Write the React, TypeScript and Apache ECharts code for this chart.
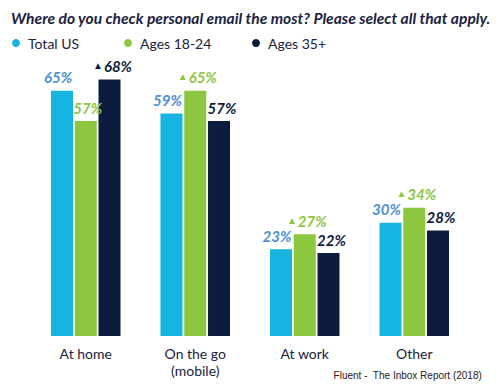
import React, { useEffect, useRef } from "react";
import * as echarts from "echarts";

const categories = ["At home", "On the go\n(mobile)", "At work", "Other"];
const seriesNames = ["Total US", "Ages 18-24", "Ages 35+"];
const totalUS = [65, 59, 23, 30];
const ages18to24 = [57, 65, 27, 34];
const ages35plus = [68, 57, 22, 28];
// significance markers (▲) shown before the value
const totalUSUp = [false, false, false, false];
const ages18to24Up = [false, true, true, true];
const ages35plusUp = [true, false, false, false];

const FONT = "Lato";
const barColors = ["#16b4e0", "#8dc63f", "#0d1c3e"];
const labelColors = ["#4a8fd4", "#8dc63f", "#0d1c3e"];

export default function App() {
  const ref = useRef<HTMLDivElement>(null);
  useEffect(() => {
    if (!ref.current) return;
    const chart = echarts.init(ref.current, null, { renderer: "svg" });
    const values = [totalUS, ages18to24, ages35plus];
    const ups = [totalUSUp, ages18to24Up, ages35plusUp];
    const offsets = [[-4, 0], [2, 0], [3, 0]];
    const series = seriesNames.map((name, i) => ({
      name,
      type: "bar",
      data: values[i],
      barWidth: 22,
      barGap: "8%",
      itemStyle: { color: barColors[i] },
      label: {
        show: true,
        position: "top",
        distance: 6,
        offset: offsets[i],
        formatter: (p: any) =>
          (ups[i][p.dataIndex] ? "{t|▲}" : "") + "{v|" + p.value + "%}",
        rich: {
          t: { fontSize: 10, color: labelColors[i], fontFamily: FONT, padding: [0, 1, 2, 0] },
          v: {
            fontSize: 15,
            fontWeight: "bold",
            fontStyle: "italic",
            color: labelColors[i],
            fontFamily: FONT,
          },
        },
      },
    }));
    chart.setOption({
      animation: false,
      title: {
        text: "Where do you check personal email the most? Please select all that apply.",
        left: 6,
        top: 5,
        textStyle: {
          fontSize: 15.6,
          fontWeight: "bold",
          fontStyle: "italic",
          color: "#1b2340",
          fontFamily: FONT,
        },
      },
      legend: [7, 119, 247].map((left, i) => ({
        data: [seriesNames[i]],
        left,
        top: 31,
        icon: "circle",
        itemWidth: 8,
        itemHeight: 8,
        itemGap: 0,
        textStyle: {
          fontSize: 14,
          color: "#1b2340",
          fontFamily: FONT,
          padding: [0, 0, 0, 3],
        },
      })),
      graphic: [
        {
          type: "text",
          right: 16,
          top: 370,
          style: {
            text: "Fluent -  The Inbox Report (2018)",
            fontSize: 10,
            fontFamily: "Liberation Sans",
            fill: "#222222",
          },
        },
      ],
      grid: { left: 31, right: 29, top: 72, bottom: 50 },
      xAxis: {
        type: "category",
        data: categories,
        axisLine: { show: false },
        axisTick: { show: false },
        axisLabel: {
          color: "#1b2340",
          fontSize: 14,
          fontFamily: FONT,
          margin: 9,
          lineHeight: 17,
        },
      },
      yAxis: { type: "value", min: 0, max: 70, show: false },
      series,
    });
    return () => chart.dispose();
  }, []);
  return (
    <div
      ref={ref}
      style={{ position: "fixed", left: 0, top: 0, width: 498, height: 386, background: "#fff" }}
    />
  );
}
